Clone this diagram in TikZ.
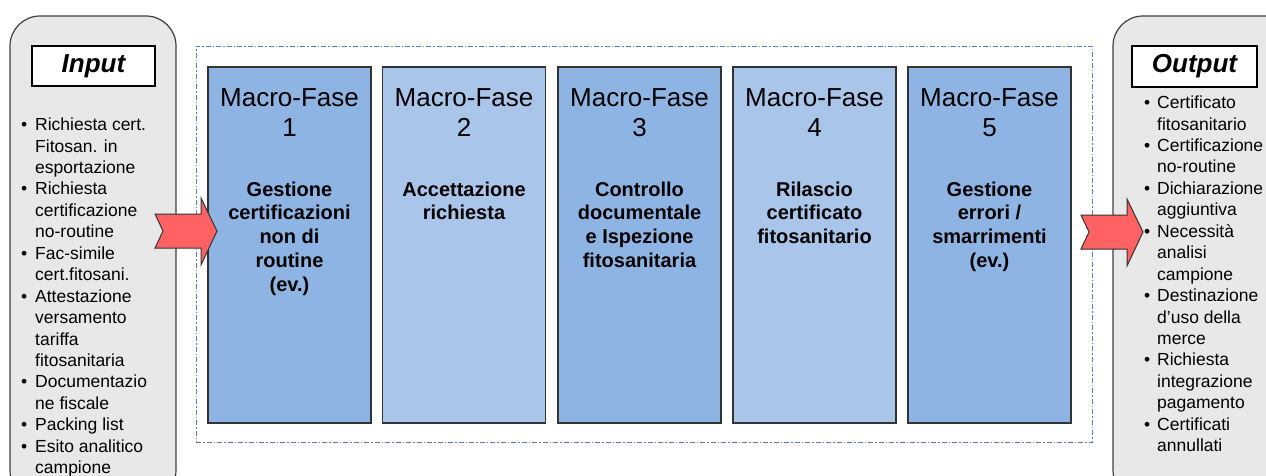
\documentclass[tikz,border=0pt]{standalone}
\usepackage{fontspec}
\setmainfont{Liberation Sans}
\definecolor{panelgray}{HTML}{E8E8E8}
\definecolor{phdark}{HTML}{8EB4E3}
\definecolor{phlight}{HTML}{A9C6EA}
\definecolor{arrowred}{HTML}{FF6262}
\definecolor{frameblue}{HTML}{5B7DB1}
\newcommand\bul{\makebox[14pt][l]{•}}
\newcommand\ind{\hspace*{14pt}}
\newcommand\obul{\makebox[13pt][l]{•}}
\newcommand\oind{\hspace*{13pt}}
\begin{document}
\begin{tikzpicture}[x=1pt,y=-1pt,
  panel/.style={draw=black!75, line width=1.2pt, fill=panelgray, rounded corners=30pt, inner sep=0pt},
  header/.style={draw=black, line width=1.2pt, fill=white, inner sep=0pt,
    font=\fontsize{26}{30}\selectfont\bfseries\itshape},
  phase/.style={draw=black!80, line width=1.3pt, inner sep=0pt, minimum width=163pt, minimum height=356pt},
  ptitle/.style={anchor=north, inner sep=0pt, align=center, font=\fontsize{26}{30}\selectfont},
  pdesc/.style={anchor=north, inner sep=0pt, align=center, font=\fontsize{20}{23.8}\selectfont\bfseries},
  blist/.style={anchor=north west, inner sep=0pt, align=left, font=\fontsize{17.5}{21.45}\selectfont},
  frame/.style={draw=frameblue, line width=1pt, dash pattern=on 5pt off 2pt on 1.5pt off 2pt, inner sep=0pt},
  bigarrow/.style={draw=black!80, line width=1pt, fill=arrowred, line join=miter}
]
\useasboundingbox (0,0) rectangle (1266,475);
\clip (0,0) rectangle (1266,475);

% side panels
\node[panel, minimum width=166pt, minimum height=484pt] (inpanel) at (93,258) {};
\node[panel, minimum width=187pt, minimum height=484pt] (outpanel) at (1206.5,258) {};

% headers
\node[header, minimum width=123pt, minimum height=40pt] (inhead) at (93.5,66) {Input};
\node[header, minimum width=125pt, minimum height=41pt] (outhead) at (1194.5,66.5) {Output};

% lists
\node[blist] (inlist) at (21,117.7) {%
\bul Richiesta cert.\\ \ind Fitosan. in\\ \ind esportazione\\
\bul Richiesta\\ \ind certificazione\\ \ind no-routine\\
\bul Fac-simile\\ \ind cert.fitosani.\\
\bul Attestazione\\ \ind versamento\\ \ind tariffa\\ \ind fitosanitaria\\
\bul Documentazio\\ \ind ne fiscale\\
\bul Packing list\\
\bul Esito analitico\\ \ind campione};

\node[blist] (outlist) at (1144,95.7) {%
\obul Certificato\\ \oind fitosanitario\\
\obul Certificazione\\ \oind no-routine\\
\obul Dichiarazione\\ \oind aggiuntiva\\
\obul Necessità\\ \oind analisi\\ \oind campione\\
\obul Destinazione\\ \oind d'uso della\\ \oind merce\\
\obul Richiesta\\ \oind integrazione\\ \oind pagamento\\
\obul Certificati\\ \oind annullati};

% dashed frame
\node[frame, minimum width=896pt, minimum height=396pt] (fr) at (644,244) {};

% phases
\node[phase, fill=phdark]  (m1) at (289.5,245) {};
\node[phase, fill=phlight] (m2) at (464,245) {};
\node[phase, fill=phdark]  (m3) at (639.5,245) {};
\node[phase, fill=phlight] (m4) at (814.5,245) {};
\node[phase, fill=phdark]  (m5) at (989.5,245) {};

\node[ptitle] (t1) at ([yshift=-21.7pt]m1.north) {Macro-Fase\\1};
\node[ptitle] (t2) at ([yshift=-21.7pt]m2.north) {Macro-Fase\\2};
\node[ptitle] (t3) at ([yshift=-21.7pt]m3.north) {Macro-Fase\\3};
\node[ptitle] (t4) at ([yshift=-21.7pt]m4.north) {Macro-Fase\\4};
\node[ptitle] (t5) at ([yshift=-21.7pt]m5.north) {Macro-Fase\\5};

\node[pdesc] (d1) at ([yshift=-115pt]m1.north) {Gestione\\certificazioni\\non di\\routine\\(ev.)};
\node[pdesc] (d2) at ([yshift=-115pt]m2.north) {Accettazione\\richiesta};
\node[pdesc] (d3) at ([yshift=-115pt]m3.north) {Controllo\\documentale\\e Ispezione\\fitosanitaria};
\node[pdesc] (d4) at ([yshift=-115pt]m4.north) {Rilascio\\certificato\\fitosanitario};
\node[pdesc] (d5) at ([yshift=-115pt]m5.north) {Gestione\\errori /\\smarrimenti\\(ev.)};

% block arrows
\draw[bigarrow] (155,214) -- (201,214) -- (201,198) -- (217,231) -- (201,265) -- (201,248) -- (155,248) -- (163,231) -- cycle;
\draw[bigarrow] (1081,215) -- (1127,215) -- (1127,199) -- (1143,232) -- (1127,266) -- (1127,249) -- (1081,249) -- (1089,232) -- cycle;
\end{tikzpicture}
\end{document}
